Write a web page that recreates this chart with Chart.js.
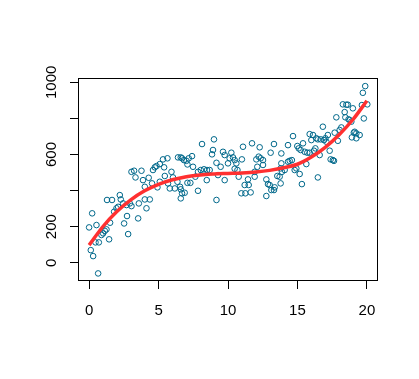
<!DOCTYPE html>
<html>
<head>
<meta charset="utf-8">
<script src="https://cdn.jsdelivr.net/npm/chart.js@4.4.1/dist/chart.umd.min.js"></script>
<style>
  html, body { margin: 0; padding: 0; background: #fff; }
  canvas { display: block; }
</style>
</head>
<body>
<canvas id="grafico" width="419" height="379"></canvas>
<script>
// scatter points
const ptX = [0.22,0.00,0.53,0.12,0.29,0.65,0.46,0.70,0.89,1.01,1.13,1.25,1.44,1.51,1.29,1.65,1.80,1.97,2.09,2.21,2.28,2.52,2.73,2.81,2.45,2.69,2.93,3.05,3.24,3.34,3.05,3.53,3.58,3.77,3.88,4.01,4.01,4.13,4.29,4.37,4.60,4.73,4.85,4.53,4.92,5.09,5.09,5.32,5.64,5.40,5.45,5.68,5.93,6.04,5.81,6.17,6.40,6.60,6.69,6.60,6.36,6.55,
  6.83,7.01,7.17,7.41,7.08,7.48,6.60,6.69,6.88,7.08,7.29,7.65,7.84,8.04,8.27,8.49,8.68,8.47,7.84,
  8.13,8.99,8.92,8.85,9.17,9.28,9.47,9.64,9.76,9.76,9.17,10.00,10.12,10.24,10.36,10.48,10.48,10.68,10.60,10.77,11.00,11.08,11.20,11.44,11.49,10.96,11.25,11.63,11.73,11.92,12.04,12.11,12.21,12.35,12.52,12.52,12.28,11.92,12.76,12.88,13.00,13.12,13.31,13.36,12.76,13.07,13.31,13.55,13.72,13.84,13.79,13.84,
  13.79,13.88,14.08,14.32,14.44,14.60,14.32,14.68,14.80,14.92,14.99,15.09,15.16,15.32,15.23,15.40,15.52,15.64,15.71,15.88,15.88,16.00,16.12,16.19,16.29,16.36,16.47,16.47,16.60,16.67,16.83,16.91,17.01,17.08,17.19,17.32,17.39,17.55,17.63,17.68,17.80,17.91,18.04,18.16,18.27,18.40,18.45,18.52,18.63,18.68,18.76,18.88,18.99,18.92,19.06,19.12,19.24,19.24,19.48,19.64,19.78,19.71,19.88,20.03];
const ptY = [274,196,209,70,37,-59,113,113,154,163,177,185,130,222,348,348,283,302,310,375,351,218,259,159,329,320,329,504,510,473,314,246,329,510,458,421,351,302,471,351,514,529,536,440,418,449,547,573,579,529,481,440,504,473,412,412,584,584,579,357,449,421,
  569,565,579,591,545,532,407,385,388,443,443,477,504,514,518,514,514,458,399,
  658,684,625,601,554,486,532,615,597,458,348,551,579,610,584,569,521,514,551,477,573,643,431,462,431,385,385,390,662,504,573,532,588,579,569,542,640,477,462,436,431,403,403,418,370,610,658,481,477,606,440,551,
  523,504,514,560,565,569,652,702,514,523,647,634,492,436,625,662,615,547,610,610,713,680,708,621,634,690,473,684,597,684,754,680,690,671,708,621,573,569,565,721,806,676,736,750,878,835,806,876,876,795,791,782,856,695,721,726,717,690,708,874,800,942,979,878];

// red fitted curve, read at whole x values
const curveX = [0,1,2,3,4,5,6,7,8,9,10,11,12,13,14,15,16,17,18,19,20];
const curveY = [98,201,284,349,399,435,460,477,487,492,495,498,503,512,527,546,586,640,710,794,898];

const xTicks = [0,5,10,15,20];
const yTicks = [0,200,400,600,800,1000];
const yLabels = ['0','200','','600','','1000'];

const FONTE = '15px "Liberation Sans", Arial, sans-serif';

const moldura = {
  id: 'moldura',
  beforeDraw(chart) {
    const c = chart.ctx;
    c.save();
    c.fillStyle = '#fff';
    c.fillRect(0, 0, chart.width, chart.height);
    c.restore();
  },
  afterDraw(chart) {
    const c = chart.ctx;
    const a = chart.chartArea;
    c.save();
    c.strokeStyle = '#000';
    c.lineWidth = 1;
    c.strokeRect(Math.round(a.left) + 0.5, Math.round(a.top) + 0.5,
      Math.round(a.right - a.left) - 1, Math.round(a.bottom - a.top) - 1);
    // vertical y labels, like R
    const y = chart.scales.y;
    c.fillStyle = '#000';
    c.font = FONTE;
    c.textAlign = 'center';
    c.textBaseline = 'alphabetic';
    yTicks.forEach((v, i) => {
      if (!yLabels[i]) return;
      c.save();
      c.translate(56, y.getPixelForValue(v));
      c.rotate(-Math.PI / 2);
      c.fillText(yLabels[i], 0, 0);
      c.restore();
    });
    c.restore();
  }
};

const pontos = ptX.map((x, i) => ({ x: x, y: ptY[i] }));
const curva = curveX.map((x, i) => ({ x: x, y: curveY[i] }));

new Chart(document.getElementById('grafico'), {
  type: 'scatter',
  data: {
    datasets: [
      {
        type: 'line',
        data: curva,
        borderColor: '#FF3030',
        borderWidth: 3.5,
        pointRadius: 0,
        fill: false,
        cubicInterpolationMode: 'monotone'
      },
      {
        data: pontos,
        pointStyle: 'circle',
        pointRadius: 2.8,
        borderWidth: 1,
        borderColor: '#00688B',
        backgroundColor: 'rgba(0,0,0,0)'
      }
    ]
  },
  options: {
    responsive: false,
    animation: false,
    events: [],
    layout: { padding: { top: 78, right: 41, left: 0, bottom: 0 } },
    plugins: { legend: { display: false }, tooltip: { enabled: false } },
    scales: {
      x: {
        type: 'linear',
        min: -0.8,
        max: 20.8,
        afterBuildTicks: s => { s.ticks = xTicks.map(v => ({ value: v })); },
        afterFit: s => { s.height = 98; },
        border: { display: false },
        grid: { drawOnChartArea: false, drawTicks: true, tickLength: 8, color: '#000', tickColor: '#000' },
        ticks: { color: '#000', font: { family: '"Liberation Sans", Arial, sans-serif', size: 15 }, padding: 13, maxRotation: 0 }
      },
      y: {
        type: 'linear',
        min: -101,
        max: 1024,
        afterBuildTicks: s => { s.ticks = yTicks.map(v => ({ value: v })); },
        afterFit: s => { s.width = 78; },
        border: { display: false },
        grid: { drawOnChartArea: false, drawTicks: true, tickLength: 8, color: '#000', tickColor: '#000' },
        ticks: { callback: () => '' }
      }
    }
  },
  plugins: [moldura]
});
</script>
</body>
</html>
